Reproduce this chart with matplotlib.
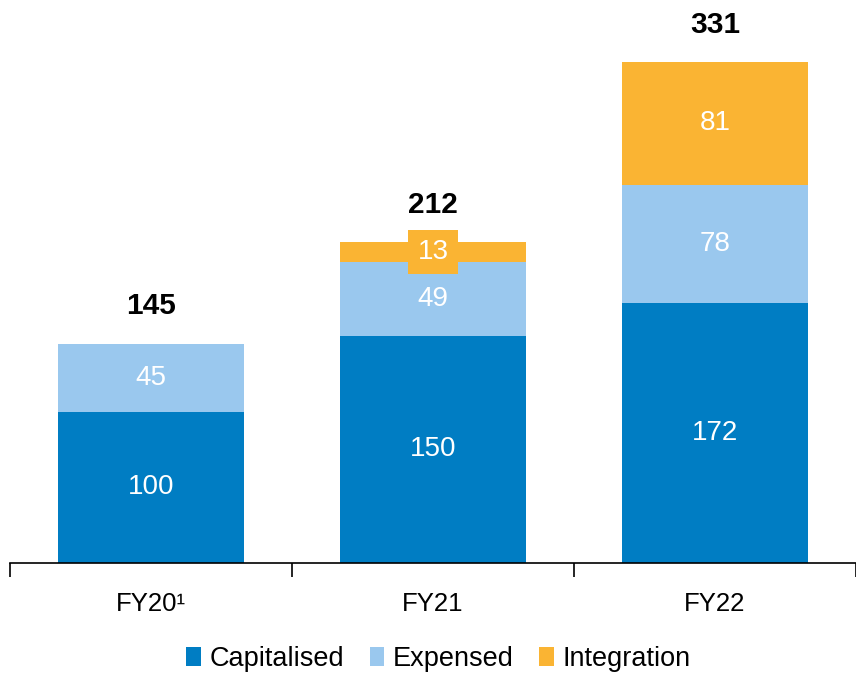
import matplotlib
matplotlib.use("Agg")
import matplotlib.pyplot as plt
from matplotlib.patches import Patch

# =========================
# podatki
# =========================
categories = ["FY20¹", "FY21", "FY22"]
capitalised = [100, 150, 172]
expensed = [45, 49, 78]
integration = [0, 13, 81]
totals = [145, 212, 331]

series_names = ["Capitalised", "Expensed", "Integration"]
colors = ["#007DC3", "#9AC8EE", "#FAB433"]

plt.rcParams["font.family"] = ["Liberation Sans", "DejaVu Sans"]

fig = plt.figure(figsize=(8.56, 6.74), dpi=100)
ax = fig.add_axes([10 / 856, 111 / 674, 846 / 856, 563 / 674])

x = list(range(len(categories)))
width = 0.663

bottoms = [0] * len(x)
for vals, col in zip([capitalised, expensed, integration], colors):
    ax.bar(x, vals, width, bottom=bottoms, color=col, linewidth=0)
    for i, v in enumerate(vals):
        if v == 0:
            continue
        y = bottoms[i] + v / 2
        kw = {}
        # majhen segment -> label z ozadjem
        if v < 20:
            kw["bbox"] = dict(boxstyle="square,pad=0.33", facecolor=col, edgecolor="none")
        ax.text(i, y, str(v), ha="center", va="center", color="white",
                fontsize=20, **kw)
    bottoms = [b + v for b, v in zip(bottoms, vals)]

# skupne vrednosti nad stolpci
for i, t in enumerate(totals):
    ax.annotate(str(t), (i, t), xytext=(0, 27), textcoords="offset points",
                ha="center", va="center", fontsize=21.5, fontweight="bold")

ax.set_xlim(-0.5, -0.5 + 846 / 283.5)
ax.set_ylim(0, 372)

for s in ["top", "right", "left"]:
    ax.spines[s].set_visible(False)
ax.spines["bottom"].set_linewidth(1.2)
ax.set_yticks([])

ax.set_xticks([-0.5, 0.5, 1.5, 2.5])
ax.set_xticklabels([])
ax.tick_params(axis="x", which="major", length=10, width=1.2, direction="out")
ax.set_xticks(x, minor=True)
ax.set_xticklabels(categories, minor=True, fontsize=18.5)
ax.tick_params(axis="x", which="minor", length=0, pad=21)

handles = [Patch(facecolor=c, edgecolor="none") for c in colors]
fig.legend(handles, series_names, loc="center", bbox_to_anchor=(0.512, 0.022),
           ncol=3, frameon=False, fontsize=19.5, handlelength=0.55,
           handleheight=0.7, handletextpad=0.3, columnspacing=0.95)

fig.savefig("out.png", dpi=100)
